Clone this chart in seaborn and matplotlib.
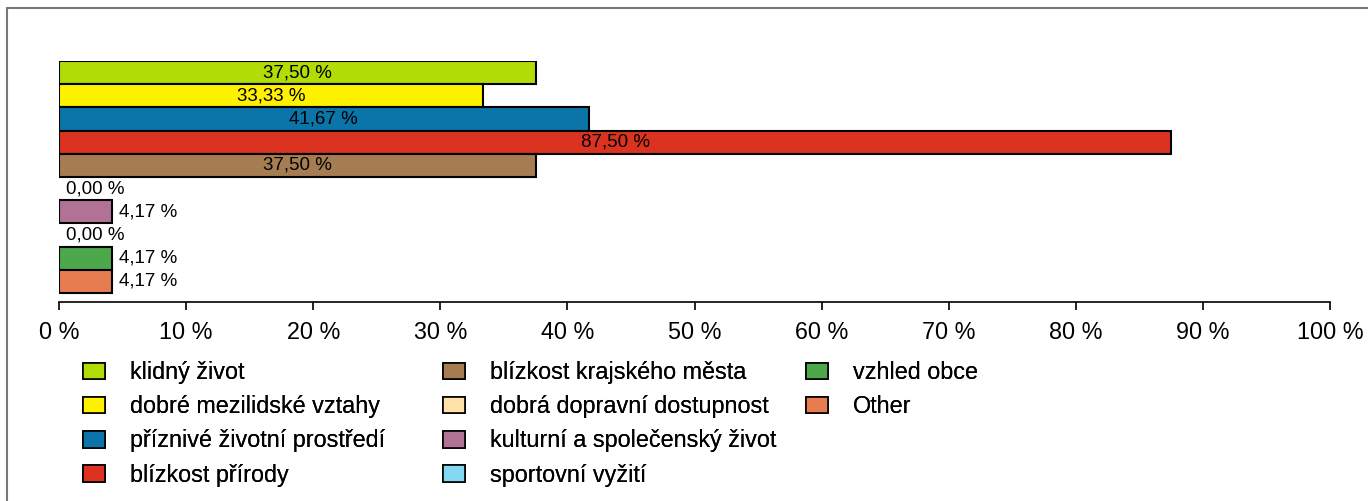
import numpy as np
import pandas as pd
import matplotlib
matplotlib.use('Agg')
import matplotlib.pyplot as plt
from matplotlib.patches import Patch
from matplotlib.lines import Line2D
from matplotlib.ticker import FuncFormatter
import seaborn as sns

# Data
categories = ['klidný život', 'dobré mezilidské vztahy', 'příznivé životní prostředí',
              'blízkost přírody', 'blízkost krajského města', 'dobrá dopravní dostupnost',
              'kulturní a společenský život', 'sportovní vyžití', 'vzhled obce', 'Other']
values = [37.50, 33.33, 41.67, 87.50, 37.50, 0.00, 4.17, 0.00, 4.17, 4.17]
colors = ['#B2DC06', '#FFF200', '#0B74A8', '#DC3220', '#A67C52', '#FFE2AA',
          '#B27296', '#84D8F2', '#4CA84A', '#E67C50']
x_ticks = [0, 10, 20, 30, 40, 50, 60, 70, 80, 90, 100]

df = pd.DataFrame({'category': categories, 'value': values})

sns.set_style('white')
plt.rcParams['font.family'] = ['Liberation Sans', 'DejaVu Sans']
plt.rcParams['text.color'] = 'black'
plt.rcParams['xtick.color'] = 'black'

fig = plt.figure(figsize=(13.68, 5.01), dpi=100)
ax = fig.add_axes([59 / 1368, (501 - 302) / 501, (1330 - 59) / 1368, (302 - 61) / 501])

sns.barplot(data=df, y='category', x='value', hue='category', palette=colors,
            order=categories, hue_order=categories, orient='h', width=1.0,
            dodge=False, saturation=1, edgecolor='black', linewidth=1.5,
            legend=False, ax=ax)

# zero bars: no outline
for patch, v in zip(ax.patches, values):
    if v == 0:
        patch.set_edgecolor('none')

ax.set_xlim(0, 100)
ax.set_ylim(len(categories) - 0.5 + 0.39, -0.5)
ax.set_xticks(x_ticks)
ax.xaxis.set_major_formatter(FuncFormatter(lambda v, p: f'{int(v)} %'))
ax.tick_params(axis='x', labelsize=16.8, length=6, width=1.2, pad=8, direction='out',
               bottom=True, color='black', labelcolor='black')
ax.set_yticks([])
ax.set_xlabel('')
ax.set_ylabel('')
for side in ['top', 'right', 'left']:
    ax.spines[side].set_visible(False)
ax.spines['bottom'].set_color('black')
ax.spines['bottom'].set_linewidth(1.2)

# value labels
for i, v in enumerate(values):
    txt = f'{v:.2f}'.replace('.', ',') + ' %'
    if v > 20:
        ax.text(v / 2, i, txt, ha='center', va='center', fontsize=13.5, color='black')
    else:
        ax.annotate(txt, xy=(v, i), xytext=(7, 0), textcoords='offset pixels',
                    ha='left', va='center', fontsize=13.5, color='black')

# legend: three fixed-width columns (4, 4, 2 entries)
handles = [Patch(facecolor=c, edgecolor='black', linewidth=1.2) for c in colors]
col_x = [83, 443, 806]
col_slices = [slice(0, 4), slice(4, 8), slice(8, 10)]
for x, sl in zip(col_x, col_slices):
    leg = fig.legend(handles[sl], categories[sl], loc='upper left',
                     bbox_to_anchor=(x / 1368, 1 - 361 / 501), ncol=1, frameon=False,
                     fontsize=16.8, handlelength=0.95, handleheight=0.72,
                     handletextpad=1.05, labelspacing=0.48, borderpad=0,
                     borderaxespad=0, labelcolor='black')
    fig.add_artist(leg)

# outer frame (gray, cut off at right and bottom)
fig.add_artist(Line2D([7 / 1368, 1.0], [1 - 8 / 501, 1 - 8 / 501], color='#777777', linewidth=1.5))
fig.add_artist(Line2D([7 / 1368, 7 / 1368], [0, 1 - 8 / 501], color='#777777', linewidth=1.5))

fig.savefig('out.png', dpi=100)
